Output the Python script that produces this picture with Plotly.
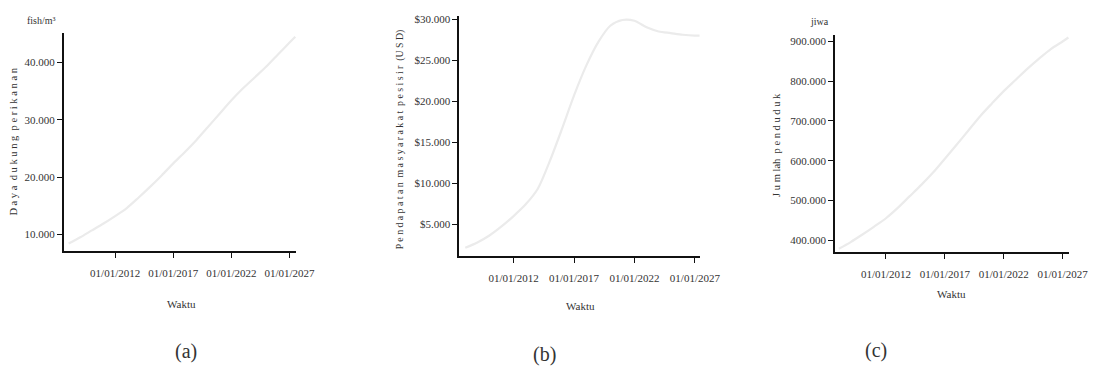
import plotly.graph_objects as go

# Simulation time axis (yearly steps, last step half a year later)
dates = [f"{y}-01-01" for y in range(2008, 2028)] + ["2027-07-01"]

# (a) fishery carrying capacity, fish/m²
carrying_capacity = [8400, 9500, 10700, 11900, 13200, 14600, 16400, 18300, 20300, 22400,
                     24400, 26500, 28800, 31100, 33400, 35500, 37400, 39300, 41400, 43500, 44500]

# (b) coastal community income, USD
coastal_income = [2100, 2750, 3600, 4700, 5970, 7400, 9300, 12700, 16600, 20700,
                  24300, 27200, 29200, 29900, 29800, 29000, 28500, 28300, 28100, 28000, 28000]

# (c) population, persons (jiwa)
population = [378000, 395000, 414000, 434000, 455000, 481000, 510000, 539000, 570000, 605000,
              640000, 676000, 712000, 744000, 775000, 803000, 831000, 857000, 881000, 900000, 910000]

x_tickvals = ["2012-01-01", "2017-01-01", "2022-01-01", "2027-01-01"]
x_ticktext = ["01/01/2012", "01/01/2017", "01/01/2022", "01/01/2027"]

a_tickvals = [10000, 20000, 30000, 40000]
a_ticktext = ["10.000", "20.000", "30.000", "40.000"]
b_tickvals = [5000, 10000, 15000, 20000, 25000, 30000]
b_ticktext = ["$5.000", "$10.000", "$15.000", "$20.000", "$25.000", "$30.000"]
c_tickvals = [400000, 500000, 600000, 700000, 800000, 900000]
c_ticktext = ["400.000", "500.000", "600.000", "700.000", "800.000", "900.000"]

W, H = 1112, 378
SERIF = "Liberation Serif, Times New Roman, serif"
LINE_COLOR = "#ebebeb"
TEXT = "#333333"


def px_x(a, b):
    return [a / W, b / W]


def px_y(top, bottom):
    return [1 - bottom / H, 1 - top / H]


fig = go.Figure()
series = [(carrying_capacity, "x", "y"), (coastal_income, "x2", "y2"), (population, "x3", "y3")]
for vals, xa, ya in series:
    fig.add_trace(go.Scatter(x=dates, y=vals, xaxis=xa, yaxis=ya, mode="lines",
                             line=dict(color=LINE_COLOR, width=2.2, shape="spline", smoothing=0.8),
                             showlegend=False, hoverinfo="x+y"))

xcommon = dict(type="date", showline=True, linecolor="#111111", linewidth=1.6,
               ticks="outside", ticklen=5, tickwidth=1.2, tickcolor="#111111",
               showgrid=False, zeroline=False, tickmode="array",
               tickvals=x_tickvals, ticktext=x_ticktext,
               tickfont=dict(family=SERIF, size=11, color=TEXT), ticklabelstandoff=6)
ycommon = dict(showline=True, linecolor="#111111", linewidth=1.6,
               ticks="outside", ticklen=5, tickwidth=1.2, tickcolor="#111111",
               showgrid=False, zeroline=False, tickmode="array",
               tickfont=dict(family=SERIF, size=11, color=TEXT))

fig.update_layout(
    width=W, height=H, margin=dict(l=0, r=0, t=0, b=0),
    paper_bgcolor="white", plot_bgcolor="white",
    xaxis=dict(xcommon, domain=px_x(65, 302), anchor="y", range=["2007-08-01", "2027-08-01"]),
    yaxis=dict(ycommon, domain=px_y(30, 250), anchor="x", range=[7100, 45200],
               tickvals=a_tickvals, ticktext=a_ticktext),
    xaxis2=dict(xcommon, domain=px_x(468, 713), anchor="y2", range=["2007-07-01", "2027-05-20"]),
    yaxis2=dict(ycommon, domain=px_y(13, 255), anchor="x2", range=[1100, 30400],
                tickvals=b_tickvals, ticktext=b_ticktext),
    xaxis3=dict(xcommon, domain=px_x(851, 1090), anchor="y3", range=["2007-09-01", "2027-08-01"]),
    yaxis3=dict(ycommon, domain=px_y(32, 251), anchor="x3", range=[370000, 917000],
                tickvals=c_tickvals, ticktext=c_ticktext),
)


def note(text, x, y, size=11, angle=0):
    fig.add_annotation(text=text, x=x / W, y=1 - y / H, xref="paper", yref="paper",
                       xanchor="center", yanchor="middle", showarrow=False, textangle=angle,
                       font=dict(family=SERIF, size=size, color=TEXT))


# axis titles and units
note("D a y a  d u k u n g  p e r i k a n a n", 14, 140, size=10.5, angle=-90)
note("fish/m³", 42, 18, size=10)
note("Waktu", 185, 303)

note("P e n d a p a t a n  m a s y a r a k a t  p e s i s i r  (U S D)", 408, 138, size=9.8, angle=-90)
note("Waktu", 592, 305)

note("J u m lah  p e n d u d u k", 792, 143, size=10.5, angle=-90)
note("jiwa", 835, 19, size=10)
note("Waktu", 970, 293)

# panel labels
note("(a)", 190, 351, size=20)
note("(b)", 555, 354, size=20)
note("(c)", 893, 350, size=20)

fig.write_html("out.html")
